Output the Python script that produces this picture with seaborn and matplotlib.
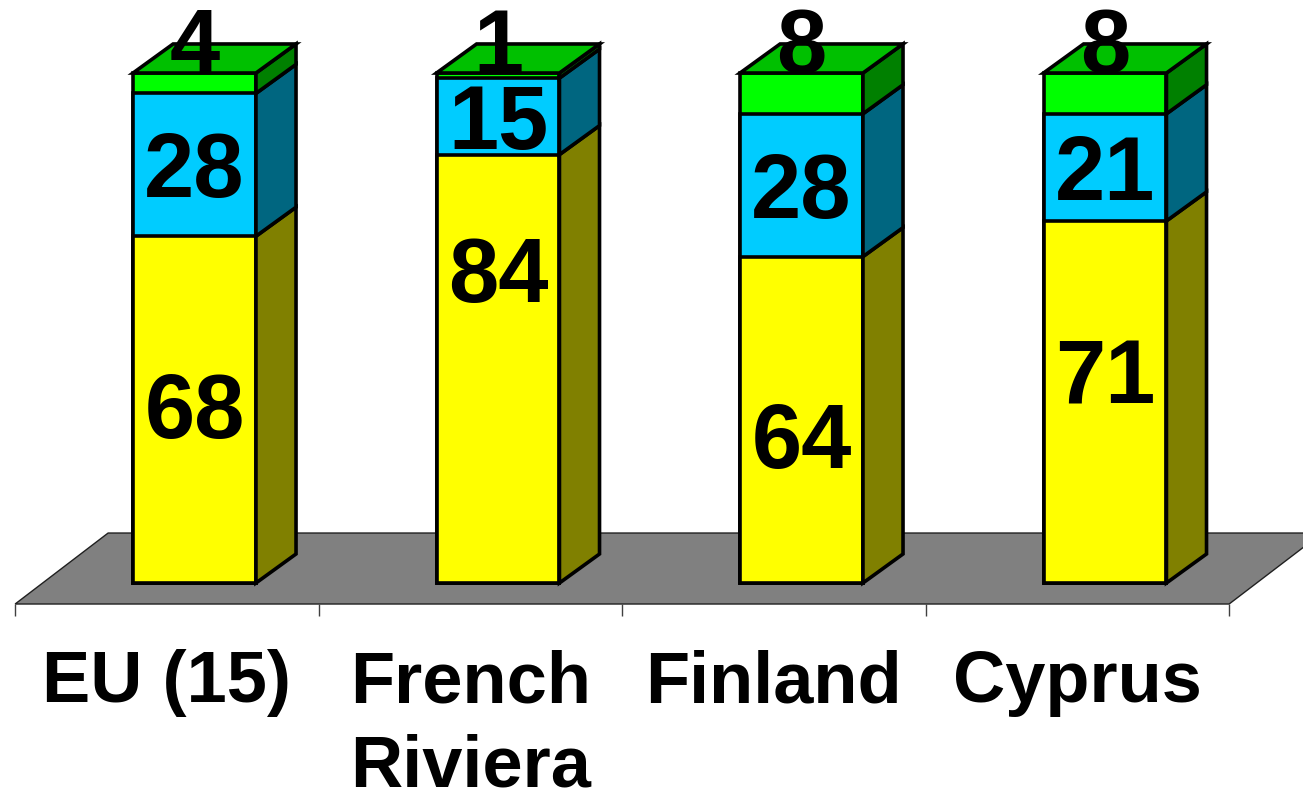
import matplotlib
matplotlib.use("Agg")
import matplotlib.pyplot as plt
from matplotlib.patches import Polygon
from matplotlib.transforms import offset_copy
import pandas as pd
import seaborn as sns

# ---- data -------------------------------------------------------------
categories = ["EU (15)", "French\nRiviera", "Finland", "Cyprus"]
low_share = [68, 84, 64, 71]     # yellow segment
mid_share = [28, 15, 28, 21]     # cyan segment
high_share = [4, 1, 8, 8]        # green segment

# vertical placement of the yellow-segment value labels (data units)
low_label_y = [34.7, 61.4, 28.8, 41.6]
top_label_y = 106.3

# ---- style ------------------------------------------------------------
sns.set_theme(style="white")
plt.rcParams["font.family"] = ["Liberation Sans", "DejaVu Sans"]
plt.rcParams["font.weight"] = "bold"

front = {"low": "#FFFF00", "mid": "#00CCFF", "high": "#00FF00"}
side = {"low": "#808000", "mid": "#006680", "high": "#008000"}
top_face = "#00C000"
edge_lw = 2.6
bar_w = 0.405
dx, dy = 0.132, 5.69            # depth offset of the bar boxes
floor_dx, floor_dy = 0.3064, 13.92
floor_front_y = -4.12
floor_x0, floor_x1 = -0.591, 3.409

fig = plt.figure(figsize=(13.03, 8.01), dpi=100)
ax = fig.add_axes([0, 0, 1, 1])

n = len(categories)
cum1 = low_share
cum2 = [a + b for a, b in zip(low_share, mid_share)]
cum3 = [a + b + c for a, b, c in zip(low_share, mid_share, high_share)]

# floor
floor = Polygon([(floor_x0, floor_front_y), (floor_x1, floor_front_y),
                 (floor_x1 + floor_dx, floor_front_y + floor_dy),
                 (floor_x0 + floor_dx, floor_front_y + floor_dy)],
                closed=True, facecolor="#808080", edgecolor="#202020",
                lw=1.0, zorder=0)
ax.add_patch(floor)
for k in range(n + 1):
    xt = floor_x0 + k * (floor_x1 - floor_x0) / n
    ax.plot([xt, xt], [floor_front_y, floor_front_y - 2.4],
            color="#404040", lw=1.0, zorder=0, solid_capstyle="butt")

# front faces: cumulative totals, tallest first so lower layers overlay
df = pd.DataFrame({"cat": list(range(n)), "c3": cum3, "c2": cum2, "c1": cum1})
for col, key in [("c3", "high"), ("c2", "mid"), ("c1", "low")]:
    sns.barplot(data=df, x="cat", y=col, color=front[key], saturation=1,
                width=bar_w, edgecolor="black", linewidth=edge_lw,
                errorbar=None, ax=ax, zorder=2)

# side and top faces
for i in range(n):
    xl, xr = i - bar_w / 2, i + bar_w / 2
    segs = [(0, cum1[i], "low"), (cum1[i], cum2[i], "mid"),
            (cum2[i], cum3[i], "high")]
    for b, t, key in segs:
        ax.add_patch(Polygon([(xr, b), (xr + dx, b + dy), (xr + dx, t + dy),
                              (xr, t)], closed=True, facecolor=side[key],
                             edgecolor="black", lw=edge_lw, zorder=2,
                             joinstyle="miter"))
    T = cum3[i]
    ax.add_patch(Polygon([(xl, T), (xr, T), (xr + dx, T + dy), (xl + dx, T + dy)],
                         closed=True, facecolor=top_face, edgecolor="black",
                         lw=edge_lw, zorder=2, joinstyle="miter"))

# value labels (baseline shifted so digits are centred on the target)
fs_val = 65
tr = offset_copy(ax.transData, fig=fig, y=-0.358 * fs_val, units="points")
for i in range(n):
    ax.text(i, low_label_y[i], str(low_share[i]), transform=tr,
            ha="center", va="baseline", fontsize=fs_val, fontweight="bold",
            color="black", zorder=5)
    ax.text(i, low_share[i] + mid_share[i] / 2, str(mid_share[i]), transform=tr,
            ha="center", va="baseline", fontsize=fs_val, fontweight="bold",
            color="black", zorder=5)
    ax.text(i, top_label_y, str(high_share[i]), transform=tr,
            ha="center", va="baseline", fontsize=fs_val, fontweight="bold",
            color="black", zorder=5)

# category labels
for k, name in enumerate(categories):
    xc = floor_x0 + (k + 0.5) * (floor_x1 - floor_x0) / n
    ax.text(xc, -13.0, name, ha="center", va="top", fontsize=52,
            fontweight="bold", color="black", linespacing=1.3)

ax.set_xlim(-194.5 / 303.5, (1303 - 194.5) / 303.5)
ax.set_ylim((583 - 801) / 5.1, 583 / 5.1)
ax.axis("off")

fig.savefig("out.png", dpi=100, facecolor="white")
